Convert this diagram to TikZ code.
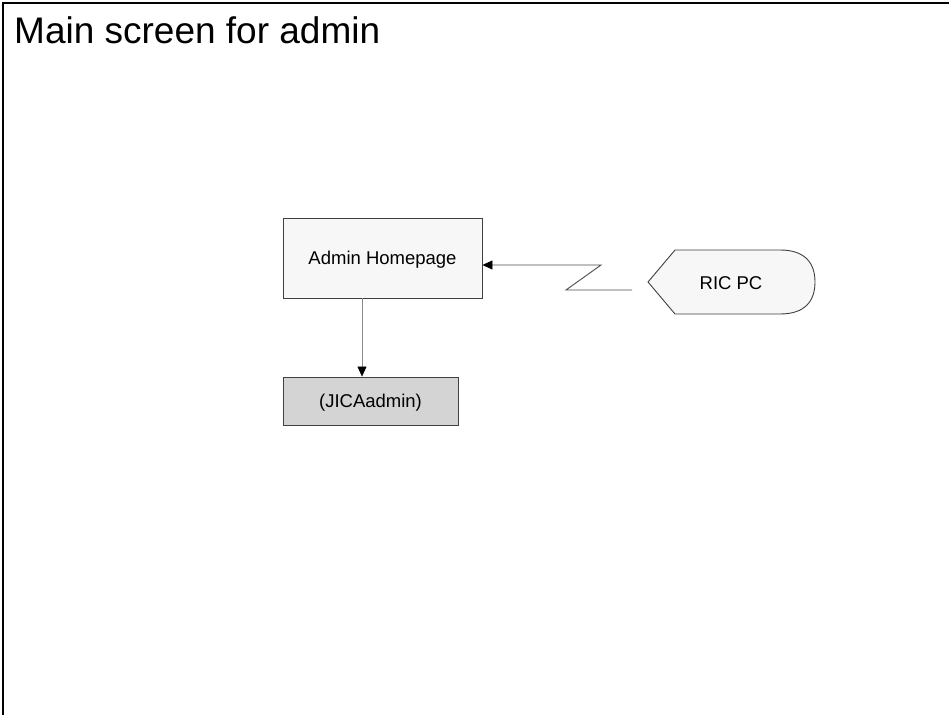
\documentclass[tikz,border=0pt]{standalone}
\usepackage{fontspec}
\setmainfont{Liberation Sans}
\usetikzlibrary{arrows.meta}
\begin{document}
\begin{tikzpicture}[x=1pt,y=-1pt,
  box/.style={draw=black!75, line width=0.9pt, inner sep=0pt, font=\fontsize{18.5}{20}\selectfont},
  conn/.style={draw=black!70, line width=0.9pt},
  tip/.style={-{Triangle[length=10pt,width=9pt,color=black]}}]
\useasboundingbox (0,0) rectangle (949,715);
\draw[line width=2.2pt] (949,3) -- (3,3) -- (3,715);
\node[anchor=base west, inner sep=0pt, font=\fontsize{37}{40}\selectfont] (title) at (14,43) {Main screen for admin};
\node[box, fill=black!3, minimum width=199pt, minimum height=80pt, text depth=0pt] (admin) at (382.5,258) {Admin Homepage};
\node[box, fill=black!17, minimum width=175pt, minimum height=48pt, text depth=0pt] (jica) at (370.5,401) {(JICAadmin)};
\draw[fill=black!3, draw=black!75, line width=0.9pt] (648,282) -- (675,250) -- (780,250)
  .. controls (806,250) and (815,264) .. (815,282)
  .. controls (815,300) and (806,314) .. (780,314) -- (675,314) -- cycle;
\node[inner sep=0pt, text depth=0pt, font=\fontsize{18.5}{20}\selectfont] (ric) at (731,283) {RIC PC};
\coordinate (zA) at (632,290);
\coordinate (zB) at (566,290);
\coordinate (zC) at (601,265);
\draw[conn, tip] (zA) -- (zB) -- (zC) -- (zC -| admin.east);
\coordinate (vx) at (362,0);
\draw[draw=black!45, line width=0.6pt, tip] (admin.south -| vx) -- (jica.north -| vx);
\end{tikzpicture}
\end{document}
